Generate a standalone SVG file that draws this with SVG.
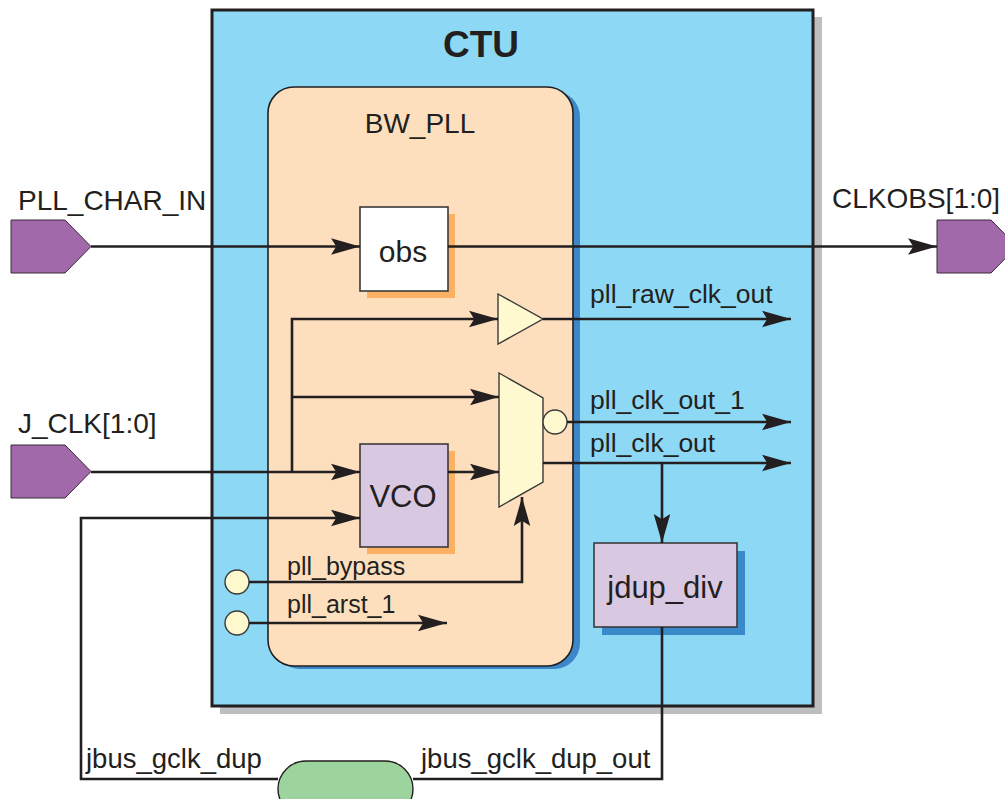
<svg xmlns="http://www.w3.org/2000/svg" width="1005" height="799" viewBox="0 0 1005 799">
<defs>
<marker id="ah" markerUnits="userSpaceOnUse" markerWidth="30" markerHeight="20" viewBox="-28 -9 29 18" refX="0" refY="0" orient="auto">
<path d="M0,0 L-28,-8 L-23,0 L-28,8 Z" fill="#231F20"/>
</marker>
<style>
.ln{fill:none;stroke:#231F20;stroke-width:2.6}
.t{font-family:"Liberation Sans",Arial,sans-serif;fill:#231F20}
.port{fill:#A169AA;stroke:#3a2a3a;stroke-width:1}
.box{stroke:#3a3a3a;stroke-width:1.6}
.ylw{fill:#FEF9CF;stroke:#3a3a3a;stroke-width:1.4}
</style>
</defs>
<rect width="1005" height="799" fill="#ffffff"/>

<g id="ctu">
<rect x="220" y="17" width="602" height="697" fill="#BDBEC0"/>
<rect x="212" y="10" width="601" height="696" fill="#8DD8F5" stroke="#231F20" stroke-width="3"/>
<text class="t" x="481" y="57" font-size="37" font-weight="bold" text-anchor="middle">CTU</text>
</g>

<g id="bw_pll">
<rect x="274" y="91" width="306" height="578" rx="26" fill="#3B87C8"/>
<rect x="268" y="87" width="305" height="579" rx="26" fill="#FDDFBE" stroke="#231F20" stroke-width="1.6"/>
<text class="t" x="420" y="133" font-size="28" text-anchor="middle">BW_PLL</text>
</g>

<g id="pll_char_in">
<path class="port" d="M11,220 L65,220 L91,246.5 L65,273 L11,273 Z"/>
<text class="t" x="18" y="210" font-size="28">PLL_CHAR_IN</text>
</g>

<g id="j_clk">
<path class="port" d="M11,445 L65,445 L91,471.5 L65,498 L11,498 Z"/>
<text class="t" x="18" y="433" font-size="28">J_CLK[1:0]</text>
</g>

<g id="clkobs">
<path class="port" d="M937,220 L991,220 L1017,246.5 L991,273 L937,273 Z"/>
<text class="t" x="832" y="208" font-size="28">CLKOBS[1:0]</text>
</g>

<g id="obs">
<rect x="367" y="214" width="88" height="84" fill="#FBB161"/>
<rect class="box" x="360" y="207" width="88" height="84" fill="#ffffff"/>
<text class="t" x="403" y="262" font-size="30" text-anchor="middle">obs</text>
</g>

<g id="vco">
<rect x="367" y="451" width="88" height="103" fill="#FBB161"/>
<rect class="box" x="360" y="444" width="88" height="103" fill="#D9C8E2"/>
<text class="t" x="403" y="507" font-size="31" text-anchor="middle">VCO</text>
</g>

<g id="buffer">
<path class="ylw" d="M498,294 L543,319 L498,344 Z"/>
</g>

<g id="mux">
<path class="ylw" d="M499,373 L543,398 L543,482 L499,507 Z"/>
<circle class="ylw" cx="555" cy="422" r="12"/>
</g>

<g id="jdup_div">
<rect x="602" y="551" width="143" height="84" fill="#3A89C9"/>
<rect class="box" x="594" y="543" width="143" height="84" fill="#D9C8E2"/>
<text class="t" x="665" y="598" font-size="31" text-anchor="middle">jdup_div</text>
</g>

<g id="pll_bypass_port">
<circle class="ylw" cx="237" cy="582" r="12"/>
<text class="t" x="287" y="575" font-size="25">pll_bypass</text>
</g>

<g id="pll_arst_port">
<circle class="ylw" cx="237" cy="623" r="12"/>
<text class="t" x="287" y="613" font-size="25">pll_arst_1</text>
</g>

<g id="jbus_pill">
<rect x="278" y="761" width="135" height="56" rx="28" fill="#9DD39C" stroke="#231F20" stroke-width="1.4"/>
</g>

<g id="connectors">
<path class="ln" d="M91,246.5 H360" marker-end="url(#ah)"/>
<path class="ln" d="M448,246.5 H937" marker-end="url(#ah)"/>
<path class="ln" d="M91,472 H360" marker-end="url(#ah)"/>
<path class="ln" d="M292,472 V319 H498" marker-end="url(#ah)"/>
<path class="ln" d="M292,397 H499" marker-end="url(#ah)"/>
<path class="ln" d="M448,472 H499" marker-end="url(#ah)"/>
<path class="ln" d="M543,319 H791" marker-end="url(#ah)"/>
<path class="ln" d="M567,422 H791" marker-end="url(#ah)"/>
<path class="ln" d="M543,463 H791" marker-end="url(#ah)"/>
<path class="ln" d="M662,463 V543" marker-end="url(#ah)"/>
<path class="ln" d="M249,582 H522 V497" marker-end="url(#ah)"/>
<path class="ln" d="M249,623 H447" marker-end="url(#ah)"/>
<path class="ln" d="M278,779 H81 V518 H360" marker-end="url(#ah)"/>
<path class="ln" d="M413,779 H662 V627"/>
</g>

<g id="labels">
<text class="t" x="590" y="303" font-size="26.5">pll_raw_clk_out</text>
<text class="t" x="590" y="409" font-size="26.5">pll_clk_out_1</text>
<text class="t" x="590" y="452" font-size="26.5">pll_clk_out</text>
<text class="t" x="86" y="768" font-size="27.5">jbus_gclk_dup</text>
<text class="t" x="421" y="768" font-size="27.5">jbus_gclk_dup_out</text>
</g>
</svg>
